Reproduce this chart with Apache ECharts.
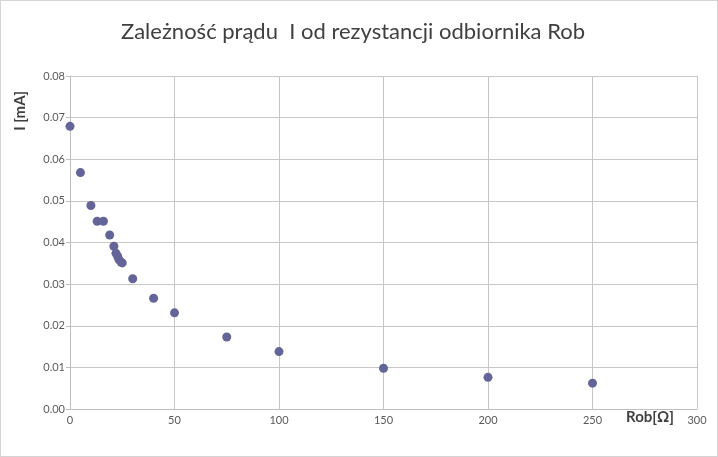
<!DOCTYPE html>
<html>
<head>
<meta charset="utf-8">
<script src="https://cdn.jsdelivr.net/npm/echarts@6/dist/echarts.min.js"></script>
<style>
html,body{margin:0;padding:0;background:#fff;}
#c{width:718px;height:457px;box-sizing:border-box;border:1px solid #d4d4d4;}
</style>
</head>
<body>
<div id="c"></div>
<script>
const titleText = 'Zależność prądu  I od rezystancji odbiornika Rob';
const xName = 'Rob[Ω]';
const yName = 'I [mA]';
const resistance = [0, 5, 10, 13, 16, 19, 21, 22, 22.8, 23.4, 24.4, 25, 30, 40, 50, 75, 100, 150, 200, 250];
const current = [0.0679, 0.0568, 0.0489, 0.0451, 0.0451, 0.0418, 0.0391, 0.0374, 0.0367, 0.0359, 0.0353, 0.0351, 0.0313, 0.0266, 0.0231, 0.0173, 0.0138, 0.0098, 0.0076, 0.0062];
const xMin = 0, xMax = 300, xStep = 50;
const yMin = 0, yMax = 0.08, yStep = 0.01;

const font = 'Lato, "Open Sans", sans-serif';
const chart = echarts.init(document.getElementById('c'), null, {renderer: 'canvas'});
chart.setOption({
  animation: false,
  title: {
    text: titleText, left: 115, top: 15,
    textStyle: {fontFamily: font, fontSize: 22, fontWeight: 'normal', color: '#404040'}
  },
  grid: {left: 69, top: 75, right: 20, bottom: 47, containLabel: false},
  xAxis: {
    type: 'value', min: xMin, max: xMax, interval: xStep,
    axisLine: {show: true, lineStyle: {color: '#bfbfbf'}},
    axisTick: {show: false},
    splitLine: {show: true, lineStyle: {color: '#c6c6c6'}},
    axisLabel: {fontFamily: font, fontSize: 11, color: '#595959', margin: 6}
  },
  yAxis: {
    type: 'value', min: yMin, max: yMax, interval: yStep,
    axisLine: {show: true, lineStyle: {color: '#bfbfbf'}},
    axisTick: {show: true, length: 4, inside: false, lineStyle: {color: '#bfbfbf'}},
    splitLine: {show: true, lineStyle: {color: '#c6c6c6'}},
    axisLabel: {fontFamily: font, fontSize: 11, color: '#595959', margin: 5,
      formatter: v => v.toFixed(2)}
  },
  graphic: [
    {type: 'text', left: 12, top: 90, rotation: Math.PI / 2,
      style: {text: yName, fontFamily: font, fontSize: 15, fontWeight: 'bold', fill: '#404040'}},
    {type: 'text', left: 625, top: 409,
      style: {text: xName, fontFamily: font, fontSize: 15, fontWeight: 'bold', fill: '#404040'}}
  ],
  series: [{
    type: 'scatter',
    data: resistance.map((r, i) => [r, current[i]]),
    symbol: 'circle', symbolSize: 9,
    itemStyle: {color: '#646499', opacity: 1}
  }]
});
</script>
</body>
</html>
